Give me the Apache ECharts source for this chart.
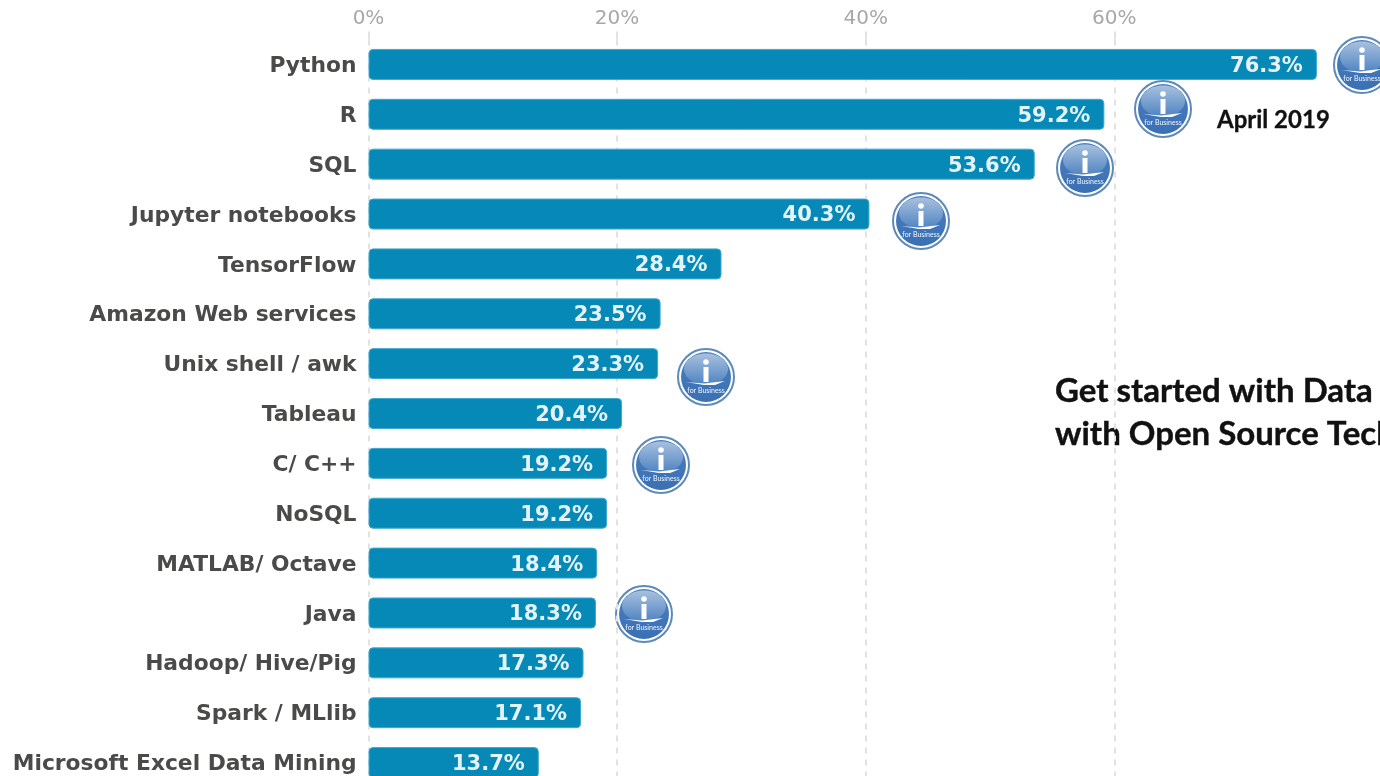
<!DOCTYPE html>
<html>
<head>
<meta charset="utf-8">
<style>html,body{margin:0;padding:0;background:#fff}#chart{width:1380px;height:776px}</style>
<script src="https://cdn.jsdelivr.net/npm/echarts@6/dist/echarts.min.js"></script>
</head>
<body>
<div id="chart"></div>
<script>
// Most used data science tools, share of respondents
const tools = ['Python','R','SQL','Jupyter notebooks','TensorFlow','Amazon Web services','Unix shell / awk','Tableau','C/ C++','NoSQL','MATLAB/ Octave','Java','Hadoop/ Hive/Pig','Spark / MLlib','Microsoft Excel Data Mining'];
const shares = [76.3,59.2,53.6,40.3,28.4,23.5,23.3,20.4,19.2,19.2,18.4,18.3,17.3,17.1,13.7];
const axisTicks = [0,20,40,60,80];
const dateNote = 'April 2019';
const headline = ['Get started with Data Science','with Open Source Technologies'];

// Platform emblems placed beside the tools available on IBM i
const emblemSpots = [[1362,65],[1163,109],[1085,168],[921,221],[706,377],[661,465],[644,614]];

function emblem(cx, cy) {
  return {
    type: 'group', x: cx, y: cy, silent: true,
    children: [
      {type:'circle', shape:{r:28}, style:{fill:'#fff', stroke:'#5d8ab8', lineWidth:2}},
      {type:'circle', shape:{r:25}, style:{fill:{type:'linear',x:0,y:0,x2:0,y2:1,colorStops:[{offset:0,color:'#4a80c0'},{offset:1,color:'#3a70b4'}]}}},
      {type:'ellipse', shape:{cx:0,cy:-8,rx:22,ry:15.5}, style:{fill:{type:'linear',x:0,y:0,x2:0,y2:1,colorStops:[{offset:0,color:'#a8c0de'},{offset:1,color:'#4f84c2'}]}}},
      {type:'polygon', shape:{points:[[-20,5],[-2,6.5],[19,4],[9,8],[-2,8]]}, style:{fill:'#fff'}},
      {type:'rect', shape:{x:-2.5,y:-10,width:5,height:15}, style:{fill:'#fff'}},
      {type:'circle', shape:{cx:0,cy:-15,r:2.8}, style:{fill:'#fff'}},
      {type:'text', style:{x:0,y:13.5,text:'for Business',fill:'#f2f6fb',font:'7px "Lato"',align:'center',verticalAlign:'middle'}}
    ]
  };
}

const chart = echarts.init(document.getElementById('chart'), null, {renderer:'canvas'});
chart.setOption({
  animation: false,
  backgroundColor: '#ffffff',
  grid: {left: 368.5, top: 39.5, width: 994.4, height: 748, containLabel: false, outerBoundsMode: 'none'},
  xAxis: {
    type: 'value', position: 'top', min: axisTicks[0], max: axisTicks[axisTicks.length-1], interval: 20,
    axisLine: {show: false},
    axisTick: {show: true, length: 11, lineStyle: {color:'#e2e2e2', width: 2, type: 'dashed'}},
    axisLabel: {show: true, showMaxLabel: false, margin: 11, color:'#a8a8a8', fontFamily:'DejaVu Sans', fontSize: 20, formatter: v => v + '%'},
    splitLine: {show: true, showMaxLine: false, lineStyle: {color:'#e2e2e2', width: 2, type: [6,6]}}
  },
  yAxis: {
    type: 'category', inverse: true, data: tools,
    axisLine: {show: false}, axisTick: {show: false},
    axisLabel: {margin: 12, color:'#4a4a48', fontFamily:'DejaVu Sans', fontWeight:'bold', fontSize: 21.8, interval: 0, verticalAlign: 'top', lineHeight: 4}
  },
  series: [{
    type: 'bar', data: shares, barWidth: 31, clip: false,
    itemStyle: {color:'#0689b7', borderRadius: 4, borderColor:'#3fa9cf', borderWidth: 1},
    label: {show: true, position:'insideRight', distance: 14, offset: [0,2], color:'#e4f3f8', fontFamily:'DejaVu Sans', fontWeight:'bold', fontSize: 21, formatter: p => p.value.toFixed(1) + '%'}
  }],
  graphic: emblemSpots.map(s => emblem(s[0], s[1])).concat([
    {type:'text', x:1217, y:120, silent:true, style:{text:dateNote, fill:'#111', stroke:'#111', lineWidth:0.3, font:'bold 24px "Lato"', verticalAlign:'middle'}},
    {type:'text', x:1055, y:391, silent:true, style:{text:headline[0], fill:'#111', stroke:'#111', lineWidth:0.4, font:'bold 33px "Lato"', verticalAlign:'middle'}},
    {type:'text', x:1055, y:434, silent:true, style:{text:headline[1], fill:'#111', stroke:'#111', lineWidth:0.4, font:'bold 33px "Lato"', verticalAlign:'middle'}}
  ])
});
</script>
</body>
</html>
